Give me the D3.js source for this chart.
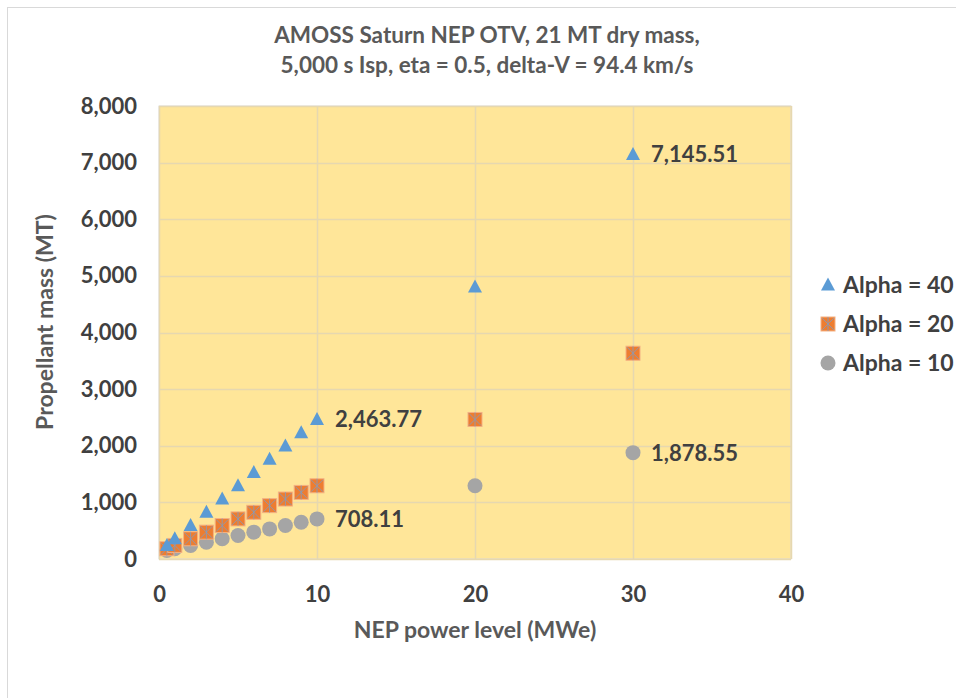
<!DOCTYPE html>
<html><head><meta charset="utf-8">
<script src="https://cdn.jsdelivr.net/npm/d3@7"></script>
<style>body{margin:0;background:#fff;} text{font-family:Lato,"Open Sans",sans-serif;}</style>
</head><body>
<svg id="c" width="956" height="698"></svg>
<script>
const powerLevels = [0.5, 1, 2, 3, 4, 5, 6, 7, 8, 9, 10, 20, 30];
const alpha40 = [240, 357, 591, 825, 1059, 1293, 1527, 1761, 1996, 2230, 2463.77, 4805, 7145.51];
const alpha20 = [181, 240, 357, 474, 591, 708, 825, 942, 1059, 1176, 1293, 2464, 3634];
const alpha10 = [152, 181, 240, 298, 357, 415, 474, 532, 591, 649, 708.11, 1293, 1878.55];
const xTicks = [0, 10, 20, 30, 40];
const yTicks = [0, 1000, 2000, 3000, 4000, 5000, 6000, 7000, 8000];
const seriesNames = ["Alpha = 40", "Alpha = 20", "Alpha = 10"];
const labelled = [
  {series: 0, index: 10}, {series: 0, index: 12},
  {series: 2, index: 10}, {series: 2, index: 12}
];

const svg = d3.select("#c");
const M = {left: 159, right: 791, top: 106, bottom: 559};
const x = d3.scaleLinear().domain([0, 40]).range([M.left, M.right]);
const y = d3.scaleLinear().domain([0, 8000]).range([M.bottom, M.top]);
const txt = "#404040";

svg.append("rect").attr("x", 7.5).attr("y", 7.5).attr("width", 960).attr("height", 700)
  .attr("fill", "#fff").attr("stroke", "#D9D9D9");

svg.append("rect").attr("x", M.left).attr("y", M.top).attr("width", M.right - M.left)
  .attr("height", M.bottom - M.top).attr("fill", "#FFE699").attr("stroke", "#D9D9D9");

// gridlines
svg.append("g").selectAll("line").data(yTicks).join("line")
  .attr("x1", M.left).attr("x2", M.right)
  .attr("y1", d => Math.round(y(d)) + 0.5).attr("y2", d => Math.round(y(d)) + 0.5)
  .attr("stroke", "#E6D8B0").attr("stroke-width", 1.5);
svg.append("g").selectAll("line").data(xTicks).join("line")
  .attr("y1", M.top).attr("y2", M.bottom)
  .attr("x1", d => Math.round(x(d)) + 0.5).attr("x2", d => Math.round(x(d)) + 0.5)
  .attr("stroke", "#E6D8B0").attr("stroke-width", 1.5);

// axes (labels only)
const fmt = d3.format(",");
const yAxis = d3.axisLeft(y).tickValues(yTicks).tickFormat(fmt).tickSize(0).tickPadding(22);
const gy = svg.append("g").attr("transform", `translate(${M.left},0)`).call(yAxis);
gy.select(".domain").remove();
gy.selectAll("text").attr("font-family", "Lato").attr("font-weight", "bold")
  .attr("font-size", 22).attr("fill", txt);

const xAxis = d3.axisBottom(x).tickValues(xTicks).tickFormat(d3.format("d")).tickSize(0).tickPadding(27);
const gx = svg.append("g").attr("transform", `translate(0,${M.bottom})`).call(xAxis);
gx.select(".domain").remove();
gx.selectAll("text").attr("font-family", "Lato").attr("font-weight", "bold")
  .attr("font-size", 22).attr("fill", txt);

// markers
const colors = ["#5B9BD5", "#ED7D31", "#A5A5A5"];
function triangle(g) {
  g.append("path").attr("d", "M0,-7.5L7,5.5L-7,5.5Z").attr("fill", colors[0]);
}
function square(g) {
  g.append("rect").attr("x", -7).attr("y", -7).attr("width", 14).attr("height", 14)
    .attr("fill", colors[1]).attr("stroke", "#F4B183").attr("stroke-width", 1);
  g.append("path").attr("d", "M-6,-6L6,6M6,-6L-6,6M0,-7L0,7")
    .attr("stroke", "#7F9CC0").attr("stroke-width", 1).attr("fill", "none").attr("opacity", 0.8);
}
function circle(g) {
  g.append("circle").attr("r", 7.5).attr("fill", colors[2]);
}
const drawers = [triangle, square, circle];
const allSeries = [alpha40, alpha20, alpha10];

[2, 1, 0].forEach(si => {
  const vals = allSeries[si];
  const g = svg.append("g");
  powerLevels.forEach((p, i) => {
    const m = g.append("g").attr("transform", `translate(${x(p)},${y(vals[i])})`);
    drawers[si](m);
  });
});

// data labels
const lfmt = d3.format(",.2f");
labelled.forEach(l => {
  const vals = allSeries[l.series];
  svg.append("text").attr("x", x(powerLevels[l.index]) + 18).attr("y", y(vals[l.index]))
    .attr("dy", "0.36em").attr("font-weight", "bold").attr("font-size", 22).attr("fill", txt)
    .text(lfmt(vals[l.index]));
});

// legend
const lg = svg.append("g");
seriesNames.forEach((n, i) => {
  const ly = 285 + i * 39;
  const m = lg.append("g").attr("transform", `translate(828,${ly})`);
  drawers[i](m);
  lg.append("text").attr("x", 843).attr("y", ly).attr("dy", "0.36em")
    .attr("font-weight", "bold").attr("font-size", 23).attr("fill", txt).text(n);
});

// titles
const tc = "#595959";
svg.append("text").attr("x", 487).attr("y", 43).attr("text-anchor", "middle")
  .attr("font-weight", "bold").attr("font-size", 22.5).attr("fill", tc)
  .text("AMOSS Saturn NEP OTV, 21 MT dry mass,");
svg.append("text").attr("x", 487).attr("y", 73).attr("text-anchor", "middle")
  .attr("font-weight", "bold").attr("font-size", 22.5).attr("fill", tc)
  .text("5,000 s Isp, eta = 0.5, delta-V = 94.4 km/s");
svg.append("text").attr("x", 475).attr("y", 638).attr("text-anchor", "middle")
  .attr("font-weight", "bold").attr("font-size", 23).attr("fill", tc)
  .text("NEP power level (MWe)");
svg.append("text").attr("transform", "translate(53,322) rotate(-90)").attr("text-anchor", "middle")
  .attr("font-weight", "bold").attr("font-size", 23).attr("fill", tc)
  .text("Propellant mass (MT)");
</script>
</body></html>
